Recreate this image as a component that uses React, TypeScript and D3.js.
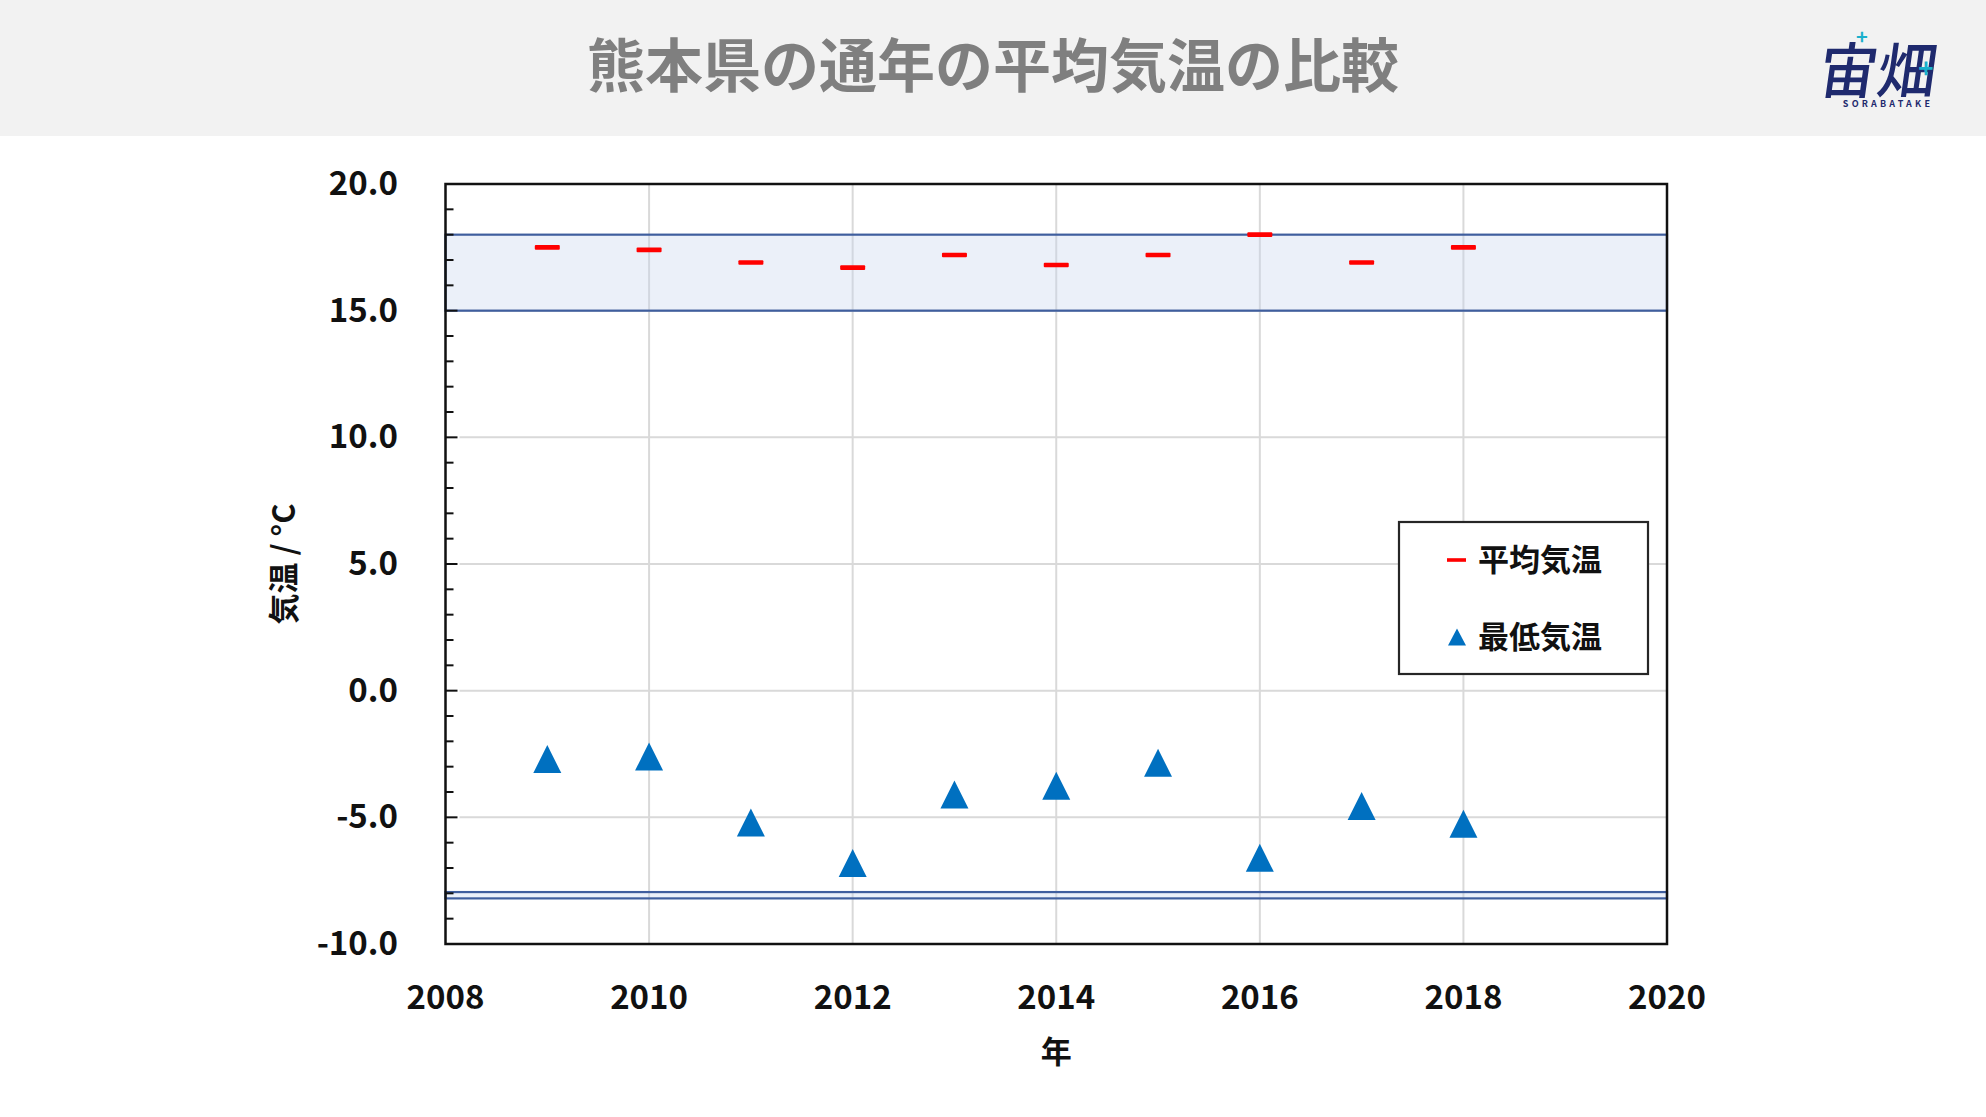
import { useRef, useEffect } from 'react'
import * as d3 from 'd3';

// data
const years = [2009, 2010, 2011, 2012, 2013, 2014, 2015, 2016, 2017, 2018];
const meanTemps = [17.5, 17.4, 16.9, 16.7, 17.2, 16.8, 17.2, 18.0, 16.9, 17.5];
const minTemps = [-2.7, -2.6, -5.2, -6.8, -4.1, -3.75, -2.85, -6.6, -4.55, -5.25];

const xTickValues = [2008, 2010, 2012, 2014, 2016, 2018, 2020];
const yTickValues = [-10, -5, 0, 5, 10, 15, 20];
const yMinorTicks = d3.range(-10, 20, 1);

// shaded ranges [low, high]
const bandRanges = [[15.0, 18.0], [-8.2, -7.95]];

const legendLabels = ["平均気温", "最低気温"];

const titleText = "熊本県の通年の平均気温の比較";
const xTitle = "年";
const yTitle = "気温 / °C";

const FONT = '"Noto Sans CJK JP", "Noto Sans", sans-serif';

function App() {
    const svgRef = useRef(null);

    const width = 1986;
    const height = 1117;

    useEffect(() => {
        const svg = d3.select(svgRef.current);
        svg.selectAll("*").remove();

        const left = 445.5, right = 1667, top = 184, bottom = 944;

        const x = d3.scaleLinear().domain([2008, 2020]).range([left, right]);
        const y = d3.scaleLinear().domain([-10, 20]).range([bottom, top]);

        // page background + header
        svg.append("rect").attr("width", width).attr("height", height).attr("fill", "#ffffff");
        svg.append("rect").attr("width", width).attr("height", 136).attr("fill", "#f2f2f2");

        svg.append("text")
           .attr("x", width / 2)
           .attr("y", 62)
           .attr("text-anchor", "middle")
           .attr("dominant-baseline", "central")
           .attr("font-family", FONT)
           .attr("font-weight", 700)
           .attr("font-size", 58)
           .attr("fill", "#7f7f7f")
           .text(titleText);

        // logo (approximation)
        const logo = svg.append("g").attr("transform", "translate(1888,0)");
        logo.append("text")
            .attr("x", 0)
            .attr("y", 86)
            .attr("text-anchor", "middle")
            .attr("font-family", FONT)
            .attr("font-weight", 500)
            .attr("font-size", 56)
            .attr("fill", "#1f2a6e")
            .attr("transform", "skewX(-8) scale(1.05,1.08)")
            .text("宙畑");
        logo.append("text")
            .attr("x", -26)
            .attr("y", 44)
            .attr("text-anchor", "middle")
            .attr("font-family", FONT)
            .attr("font-weight", 700)
            .attr("font-size", 20)
            .attr("fill", "#1ab0cc")
            .text("+");
        logo.append("text")
            .attr("x", 38)
            .attr("y", 78)
            .attr("text-anchor", "middle")
            .attr("font-family", FONT)
            .attr("font-weight", 700)
            .attr("font-size", 26)
            .attr("fill", "#1ab0cc")
            .text("+");
        logo.append("text")
            .attr("x", 0)
            .attr("y", 107)
            .attr("text-anchor", "middle")
            .attr("font-family", FONT)
            .attr("font-weight", 700)
            .attr("font-size", 9)
            .attr("letter-spacing", 3.2)
            .attr("fill", "#1f2a6e")
            .text("SORABATAKE");

        // gridlines
        const grid = svg.append("g").attr("stroke", "#d9d9d9").attr("stroke-width", 2);
        grid.selectAll("line.gx")
            .data(xTickValues.slice(1, -1))
            .join("line")
            .attr("class", "gx")
            .attr("x1", (d) => x(d)).attr("x2", (d) => x(d))
            .attr("y1", top).attr("y2", bottom);
        grid.selectAll("line.gy")
            .data(yTickValues.slice(1, -1))
            .join("line")
            .attr("class", "gy")
            .attr("x1", left + 14).attr("x2", right)
            .attr("y1", (d) => y(d)).attr("y2", (d) => y(d));

        // bands
        svg.append("g")
           .selectAll("rect")
           .data(bandRanges)
           .join("rect")
           .attr("x", left)
           .attr("width", right - left)
           .attr("y", (d) => y(d[1]))
           .attr("height", (d) => y(d[0]) - y(d[1]))
           .attr("fill", "#c5d5ee")
           .attr("fill-opacity", 0.35)
           .attr("stroke", "#3f5e9e")
           .attr("stroke-width", 2.2);

        // mean temperature dashes
        svg.append("g")
           .attr("fill", "#ff0000")
           .selectAll("rect")
           .data(years)
           .join("rect")
           .attr("x", (d) => x(d) - 12.5)
           .attr("y", (d, i) => y(meanTemps[i]) - 2.3)
           .attr("width", 25)
           .attr("height", 4.6)
           .attr("rx", 1);

        // min temperature triangles (centred on mid-height)
        const tri = (cx, cy, w, h) =>
            `M${cx},${cy - h / 2}L${cx + w / 2},${cy + h / 2}L${cx - w / 2},${cy + h / 2}Z`;

        svg.append("g")
           .attr("fill", "#0070c0")
           .selectAll("path")
           .data(years)
           .join("path")
           .attr("d", (d, i) => tri(x(d), y(minTemps[i]), 28, 28));

        // frame
        svg.append("rect")
           .attr("x", left).attr("y", top)
           .attr("width", right - left).attr("height", bottom - top)
           .attr("fill", "none")
           .attr("stroke", "#111111")
           .attr("stroke-width", 2.5);

        // y ticks (inward)
        svg.append("g")
           .attr("stroke", "#111111")
           .attr("stroke-width", 2)
           .selectAll("line")
           .data(yMinorTicks.slice(1))
           .join("line")
           .attr("x1", left)
           .attr("x2", (d) => left + (d % 5 === 0 ? 12 : 8))
           .attr("y1", (d) => y(d)).attr("y2", (d) => y(d));

        // y tick labels (plain hyphen minus, as in the original)
        const fmt = (d) => d3.format(".1f")(d).replace("\u2212", "-");
        svg.append("g")
           .selectAll("text")
           .data(yTickValues)
           .join("text")
           .attr("x", 398)
           .attr("y", (d) => y(d) - 3)
           .attr("text-anchor", "end")
           .attr("dominant-baseline", "central")
           .attr("font-family", FONT)
           .attr("font-weight", 700)
           .attr("font-size", 33)
           .attr("fill", "#111111")
           .text(fmt);

        // x tick labels
        svg.append("g")
           .selectAll("text")
           .data(xTickValues)
           .join("text")
           .attr("x", (d) => x(d))
           .attr("y", 995)
           .attr("text-anchor", "middle")
           .attr("dominant-baseline", "central")
           .attr("font-family", FONT)
           .attr("font-weight", 700)
           .attr("font-size", 33)
           .attr("fill", "#111111")
           .text((d) => String(d));

        // axis titles
        svg.append("text")
           .attr("x", (left + right) / 2)
           .attr("y", 1049)
           .attr("text-anchor", "middle")
           .attr("dominant-baseline", "central")
           .attr("font-family", FONT)
           .attr("font-weight", 700)
           .attr("font-size", 31)
           .attr("fill", "#111111")
           .text(xTitle);

        svg.append("text")
           .attr("transform", `translate(281,${(top + bottom) / 2}) rotate(-90)`)
           .attr("text-anchor", "middle")
           .attr("dominant-baseline", "central")
           .attr("font-family", FONT)
           .attr("font-weight", 700)
           .attr("font-size", 31)
           .attr("fill", "#111111")
           .text(yTitle);

        // legend
        const legend = svg.append("g");
        legend.append("rect")
              .attr("x", 1399).attr("y", 522)
              .attr("width", 249).attr("height", 152)
              .attr("fill", "#ffffff")
              .attr("stroke", "#262626")
              .attr("stroke-width", 2.2);
        const rowY = [560, 637];
        legend.append("rect")
              .attr("x", 1447).attr("y", rowY[0] - 1.8)
              .attr("width", 19).attr("height", 3.6)
              .attr("fill", "#ff0000");
        legend.append("path")
              .attr("d", tri(1457, rowY[1], 18, 17))
              .attr("fill", "#0070c0");
        legend.selectAll("text.lbl")
              .data(legendLabels)
              .join("text")
              .attr("class", "lbl")
              .attr("x", 1478)
              .attr("y", (d, i) => rowY[i] - 3)
              .attr("dominant-baseline", "central")
              .attr("font-family", FONT)
              .attr("font-weight", 700)
              .attr("font-size", 31)
              .attr("fill", "#111111")
              .text((d) => d);
    }, []);

    return (
        <svg ref={svgRef}
             width={width}
             height={height}
             style={{ position: 'absolute', left: 0, top: 0, display: 'block' }} />
    )
}

export default App;
